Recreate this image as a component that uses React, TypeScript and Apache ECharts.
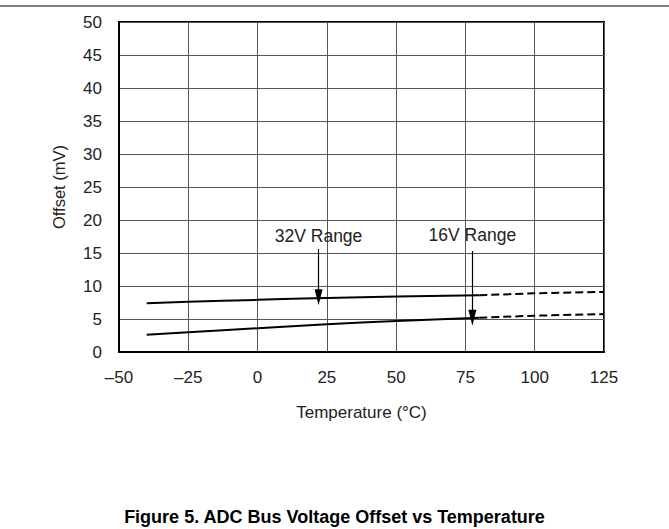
import React, { useEffect, useRef } from "react";
import * as echarts from "echarts";

const xTicks = [-50, -25, 0, 25, 50, 75, 100, 125];
const temp32Solid = [-40, -25, 0, 25, 50, 80];
const offset32Solid = [7.4, 7.6, 7.9, 8.2, 8.4, 8.6];
const temp32Dash = [80, 100, 125];
const offset32Dash = [8.6, 8.9, 9.1];
const temp16Solid = [-40, -25, 0, 25, 50, 80];
const offset16Solid = [2.6, 3.0, 3.6, 4.2, 4.7, 5.2];
const temp16Dash = [80, 100, 125];
const offset16Dash = [5.2, 5.5, 5.75];
const arrow32 = { label: "32V Range", x: 22, from: 15.6, to: 8.3 };
const arrow16 = { label: "16V Range", x: 77.5, from: 15.3, to: 5.2 };

const FONT = "Liberation Sans, Arial, Helvetica, sans-serif";

function zip(xs: number[], ys: number[]) {
  return xs.map((x, i) => [x, ys[i]]);
}

function arrowLine(a: { label: string; x: number; from: number; to: number }, dist: number) {
  return {
    silent: true,
    symbol: ["none", "triangle"],
    symbolSize: [8, 16],
    lineStyle: { color: "#000", width: 1.2, type: "solid" },
    label: {
      show: true,
      position: "start",
      formatter: a.label,
      color: "#222",
      fontSize: 17.5,
      fontFamily: FONT,
      distance: dist,
    },
    data: [[{ coord: [a.x, a.from] }, { coord: [a.x, a.to] }]],
  };
}

export default function App() {
  const ref = useRef<HTMLDivElement>(null);
  useEffect(() => {
    if (!ref.current) return;
    const chart = echarts.init(ref.current, undefined, { renderer: "svg" });
    const solid = { color: "#000", width: 2, type: "solid" };
    const dashed = { color: "#000", width: 2, type: [8, 4] };
    chart.setOption({
      animation: false,
      backgroundColor: "#fff",
      title: {
        text: "Figure 5. ADC Bus Voltage Offset vs Temperature",
        left: "center",
        top: 506,
        padding: 0,
        textStyle: { fontFamily: FONT, fontSize: 18, fontWeight: "bold", color: "#000", lineHeight: 22 },
      },
      graphic: [
        {
          type: "line",
          shape: { x1: 0, y1: 6, x2: 669, y2: 6 },
          style: { stroke: "#000", lineWidth: 1.2 },
        },
      ],
      grid: {
        left: 119,
        right: 65,
        top: 22,
        bottom: 177,
        show: true,
        borderColor: "#000",
        borderWidth: 2,
        containLabel: false,
      },
      xAxis: {
        type: "value",
        min: xTicks[0],
        max: xTicks[xTicks.length - 1],
        interval: 25,
        name: "Temperature (°C)",
        nameLocation: "middle",
        nameGap: 52,
        nameTextStyle: { fontFamily: FONT, fontSize: 17, color: "#222" },
        axisLine: { show: true, onZero: false, lineStyle: { color: "#000", width: 2 } },
        axisTick: { show: false },
        axisLabel: {
          margin: 17,
          fontFamily: FONT,
          fontSize: 17,
          color: "#222",
          formatter: (v: number) => (v < 0 ? "\u2013" + Math.abs(v) : String(v)),
        },
        splitLine: { show: true, lineStyle: { color: "#555", width: 1 } },
      },
      yAxis: {
        type: "value",
        min: 0,
        max: 50,
        interval: 5,
        name: "Offset (mV)",
        nameLocation: "middle",
        nameGap: 52,
        nameTextStyle: { fontFamily: FONT, fontSize: 16.5, color: "#222" },
        axisLine: { show: true, onZero: false, lineStyle: { color: "#000", width: 2 } },
        axisTick: { show: false },
        axisLabel: { margin: 17, fontFamily: FONT, fontSize: 17, color: "#222" },
        splitLine: { show: true, lineStyle: { color: "#555", width: 1 } },
      },
      series: [
        {
          type: "line",
          data: zip(temp32Solid, offset32Solid),
          showSymbol: false,
          smooth: true,
          lineStyle: solid,
          markLine: arrowLine(arrow32, 4),
          z: 3,
        },
        {
          type: "line",
          data: zip(temp32Dash, offset32Dash),
          showSymbol: false,
          lineStyle: dashed,
        },
        {
          type: "line",
          data: zip(temp16Solid, offset16Solid),
          showSymbol: false,
          smooth: true,
          lineStyle: solid,
          markLine: arrowLine(arrow16, 7),
          z: 3,
        },
        {
          type: "line",
          data: zip(temp16Dash, offset16Dash),
          showSymbol: false,
          lineStyle: dashed,
        },
      ],
    });
    return () => chart.dispose();
  }, []);
  return (
    <div
      ref={ref}
      style={{ position: "fixed", left: 0, top: 0, width: 669, height: 529 }}
    />
  );
}
